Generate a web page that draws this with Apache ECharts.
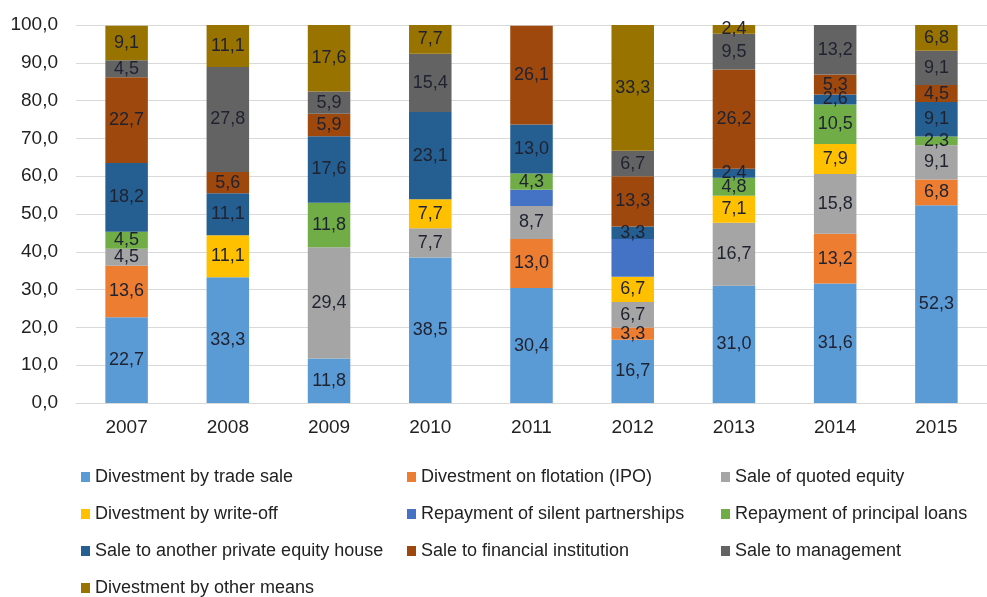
<!DOCTYPE html>
<html>
<head>
<meta charset="utf-8">
<title>Divestments</title>
<script src="https://cdn.jsdelivr.net/npm/echarts@6/dist/echarts.min.js"></script>
<style>
  html, body { margin: 0; padding: 0; background: #fff; }
  #chart { width: 987px; height: 597px; }
</style>
</head>
<body>
<div id="chart"></div>
<script>
// categories
var years = ["2007", "2008", "2009", "2010", "2011", "2012", "2013", "2014", "2015"];
var yTicks = [0, 10, 20, 30, 40, 50, 60, 70, 80, 90, 100];

// series values (in %), bottom to top
var tradeSale     = [22.7, 33.3, 11.8, 38.5, 30.4, 16.7, 31.0, 31.6, 52.3];
var flotation     = [13.6, 0, 0, 0, 13.0, 3.3, 0, 13.2, 6.8];
var quotedEquity  = [4.5, 0, 29.4, 7.7, 8.7, 6.7, 16.7, 15.8, 9.1];
var writeOff      = [0, 11.1, 0, 7.7, 0, 6.7, 7.1, 7.9, 0];
var silentPartner = [0, 0, 0, 0, 4.3, 10.0, 0, 0, 0];
var principalLoan = [4.5, 0, 11.8, 0, 4.3, 0, 4.8, 10.5, 2.3];
var otherPEHouse  = [18.2, 11.1, 17.6, 23.1, 13.0, 3.3, 2.4, 2.6, 9.1];
var financialInst = [22.7, 5.6, 5.9, 0, 26.1, 13.3, 26.2, 5.3, 4.5];
var management    = [4.5, 27.8, 5.9, 15.4, 0, 6.7, 9.5, 13.2, 9.1];
var otherMeans    = [9.1, 11.1, 17.6, 7.7, 0, 33.3, 2.4, 0, 6.8];

var names = [
  "Divestment by trade sale", "Divestment on flotation (IPO)", "Sale of quoted equity",
  "Divestment by write-off", "Repayment of silent partnerships", "Repayment of principal loans",
  "Sale to another private equity house", "Sale to financial institution", "Sale to management",
  "Divestment by other means"
];
var values = [tradeSale, flotation, quotedEquity, writeOff, silentPartner,
              principalLoan, otherPEHouse, financialInst, management, otherMeans];
var colors = ["#5B9BD5", "#ED7D31", "#A5A5A5", "#FFC000", "#4472C4",
              "#70AD47", "#255E91", "#9E480E", "#636363", "#997300"];

var font = "'Liberation Sans', Arial, sans-serif";

function comma(v) {
  return v.toFixed(1).replace(".", ",");
}

var chart = echarts.init(document.getElementById("chart"));

var series = names.map(function (n, i) {
  return {
    name: n,
    type: "bar",
    stack: "total",
    barWidth: "42%",
    data: values[i],
    itemStyle: { color: colors[i] },
    label: {
      // silent partnerships carry no labels in the original
      show: i !== 4,
      position: "inside",
      color: "#1f2230",
      fontFamily: font,
      fontSize: 18,
      formatter: function (p) { return p.value ? comma(p.value) : ""; }
    }
  };
});

// legend is laid out as three columns
function legendCol(items, left) {
  return {
    orient: "vertical",
    left: left,
    top: 468,
    height: 200,
    padding: 0,
    itemGap: 19,
    itemWidth: 9,
    itemHeight: 10,
    icon: "rect",
    textStyle: { fontFamily: font, fontSize: 18, color: "#222" },
    data: items
  };
}

var option = {
  animation: false,
  grid: { left: 76, top: 25, width: 916, height: 378 },
  legend: [
    legendCol([names[0], names[3], names[6], names[9]], 81),
    legendCol([names[1], names[4], names[7]], 407),
    legendCol([names[2], names[5], names[8]], 721)
  ],
  xAxis: {
    type: "category",
    data: years,
    axisLine: { lineStyle: { color: "#d9d9d9" } },
    axisTick: { show: false },
    axisLabel: { fontFamily: font, fontSize: 19, color: "#222", margin: 15 }
  },
  yAxis: {
    type: "value",
    min: yTicks[0],
    max: yTicks[yTicks.length - 1],
    interval: yTicks[1] - yTicks[0],
    splitLine: { lineStyle: { color: "#d9d9d9" } },
    axisLabel: {
      fontFamily: font, fontSize: 19, color: "#222", margin: 18,
      formatter: function (v) { return comma(v); }
    }
  },
  series: series
};

chart.setOption(option);
</script>
</body>
</html>
